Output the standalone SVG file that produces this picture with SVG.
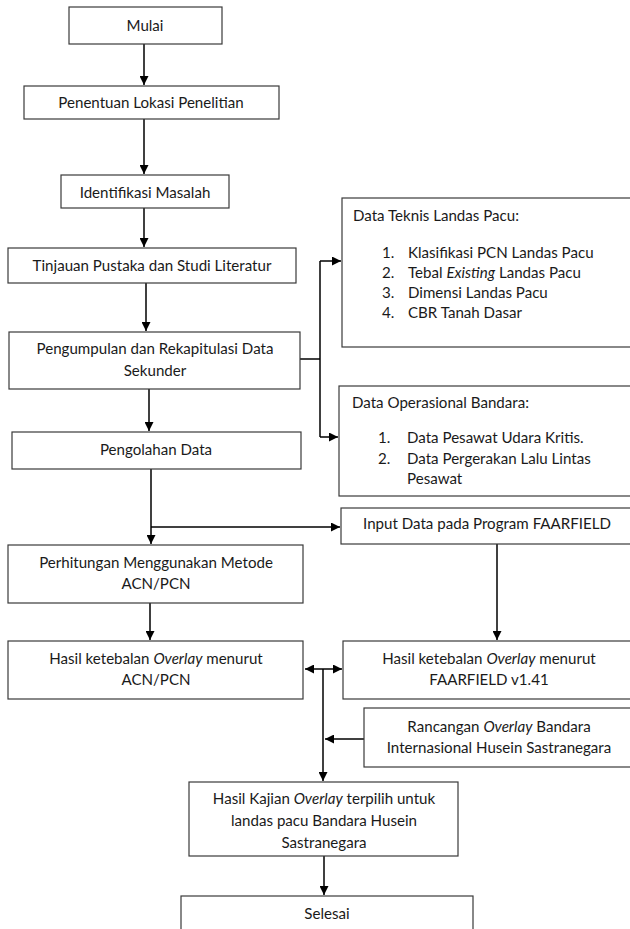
<svg xmlns="http://www.w3.org/2000/svg" width="630" height="929" viewBox="0 0 630 929">
<style>
  .box { fill: #ffffff; stroke: #3a3a3a; stroke-width: 1.2; }
  .t { font-family: "Lato", "Open Sans", "Liberation Sans", sans-serif; font-size: 15.1px; fill: #1a1a1a; }
  .c { text-anchor: middle; }
  .i { font-style: italic; }
  .ln { fill: none; stroke: #000000; stroke-width: 1.5; }
</style>
<defs>
  <marker id="ah" viewBox="0 0 10 10" refX="10" refY="5" markerWidth="9" markerHeight="9" markerUnits="userSpaceOnUse" orient="auto-start-reverse">
    <path d="M0,0 L10,5 L0,10 z" fill="#000000"/>
  </marker>
</defs>
<rect width="630" height="929" fill="#ffffff"/>

<g id="connectors">
  <line class="ln" x1="144" y1="44" x2="144" y2="85" marker-end="url(#ah)"/>
  <line class="ln" x1="144" y1="119" x2="144" y2="174" marker-end="url(#ah)"/>
  <line class="ln" x1="144" y1="208" x2="144" y2="247" marker-end="url(#ah)"/>
  <line class="ln" x1="146" y1="283" x2="146" y2="331" marker-end="url(#ah)"/>
  <polyline class="ln" points="300,359 320,359"/>
  <polyline class="ln" points="320,261 320,437"/>
  <line class="ln" x1="320" y1="261" x2="341" y2="261" marker-end="url(#ah)"/>
  <line class="ln" x1="320" y1="437" x2="338" y2="437" marker-end="url(#ah)"/>
  <line class="ln" x1="149" y1="389" x2="149" y2="431" marker-end="url(#ah)"/>
  <line class="ln" x1="151" y1="469" x2="151" y2="544" marker-end="url(#ah)"/>
  <line class="ln" x1="151" y1="527" x2="340" y2="527" marker-end="url(#ah)"/>
  <line class="ln" x1="150" y1="603" x2="150" y2="640" marker-end="url(#ah)"/>
  <line class="ln" x1="497" y1="544" x2="497" y2="640" marker-end="url(#ah)"/>
  <line class="ln" x1="305" y1="669" x2="342" y2="669" marker-start="url(#ah)" marker-end="url(#ah)"/>
  <line class="ln" x1="323" y1="669" x2="323" y2="781" marker-end="url(#ah)"/>
  <line class="ln" x1="364" y1="739" x2="325" y2="739" marker-end="url(#ah)"/>
  <line class="ln" x1="324" y1="856" x2="324" y2="895" marker-end="url(#ah)"/>
</g>

<g id="mulai">
  <rect class="box" x="69" y="7" width="153" height="37"/>
  <text class="t c" x="145" y="30.5">Mulai</text>
</g>
<g id="penentuan">
  <rect class="box" x="24" y="86" width="255" height="33"/>
  <text class="t c" x="151" y="108">Penentuan Lokasi Penelitian</text>
</g>
<g id="identifikasi">
  <rect class="box" x="61" y="175" width="168" height="33"/>
  <text class="t c" x="145" y="198">Identifikasi Masalah</text>
</g>
<g id="tinjauan">
  <rect class="box" x="8" y="248" width="288" height="35"/>
  <text class="t c" x="152" y="270.5">Tinjauan Pustaka dan Studi Literatur</text>
</g>
<g id="pengumpulan">
  <rect class="box" x="9" y="332" width="291" height="57"/>
  <text class="t c" x="155" y="353.5">Pengumpulan dan Rekapitulasi Data</text>
  <text class="t c" x="155" y="375.5">Sekunder</text>
</g>
<g id="pengolahan">
  <rect class="box" x="12" y="432" width="289" height="37"/>
  <text class="t c" x="156" y="454.5">Pengolahan Data</text>
</g>
<g id="data-teknis">
  <rect class="box" x="342" y="198" width="300" height="149"/>
  <text class="t" x="353" y="221">Data Teknis Landas Pacu:</text>
  <text class="t" x="382" y="257.5">1.</text>
  <text class="t" x="408" y="257.5">Klasifikasi PCN Landas Pacu</text>
  <text class="t" x="382" y="277.5">2.</text>
  <text class="t" x="408" y="277.5">Tebal <tspan class="i">Existing</tspan> Landas Pacu</text>
  <text class="t" x="382" y="297.5">3.</text>
  <text class="t" x="408" y="297.5">Dimensi Landas Pacu</text>
  <text class="t" x="382" y="317.5">4.</text>
  <text class="t" x="408" y="317.5">CBR Tanah Dasar</text>
</g>
<g id="data-operasional">
  <rect class="box" x="339" y="386" width="300" height="110"/>
  <text class="t" x="352" y="407.5">Data Operasional Bandara:</text>
  <text class="t" x="378" y="442.5">1.</text>
  <text class="t" x="407" y="442.5">Data Pesawat Udara Kritis.</text>
  <text class="t" x="378" y="463.5">2.</text>
  <text class="t" x="407" y="463.5">Data Pergerakan Lalu Lintas</text>
  <text class="t" x="407" y="483.5">Pesawat</text>
</g>
<g id="input-data">
  <rect class="box" x="341" y="508" width="300" height="36"/>
  <text class="t c" x="487" y="528.5">Input Data pada Program FAARFIELD</text>
</g>
<g id="perhitungan">
  <rect class="box" x="8" y="545" width="295" height="58"/>
  <text class="t c" x="156" y="567.5">Perhitungan Menggunakan Metode</text>
  <text class="t c" x="156" y="588.5">ACN/PCN</text>
</g>
<g id="hasil-acn">
  <rect class="box" x="8" y="641" width="295" height="58"/>
  <text class="t c" x="156" y="663.5">Hasil ketebalan <tspan class="i">Overlay</tspan> menurut</text>
  <text class="t c" x="156" y="684.5">ACN/PCN</text>
</g>
<g id="hasil-faarfield">
  <rect class="box" x="343" y="641" width="300" height="58"/>
  <text class="t c" x="489" y="663.5">Hasil ketebalan <tspan class="i">Overlay</tspan> menurut</text>
  <text class="t c" x="489" y="684.5">FAARFIELD v1.41</text>
</g>
<g id="rancangan">
  <rect class="box" x="364" y="708" width="280" height="59"/>
  <text class="t c" x="499" y="731.5">Rancangan <tspan class="i">Overlay</tspan> Bandara</text>
  <text class="t c" x="499" y="752.5">Internasional Husein Sastranegara</text>
</g>
<g id="hasil-kajian">
  <rect class="box" x="189" y="782" width="269" height="74"/>
  <text class="t c" x="324" y="803.5">Hasil Kajian <tspan class="i">Overlay</tspan> terpilih untuk</text>
  <text class="t c" x="324" y="825.5">landas pacu Bandara Husein</text>
  <text class="t c" x="324" y="847.5">Sastranegara</text>
</g>
<g id="selesai">
  <rect class="box" x="181" y="896" width="292" height="50"/>
  <text class="t c" x="327" y="918.5">Selesai</text>
</g>
</svg>
